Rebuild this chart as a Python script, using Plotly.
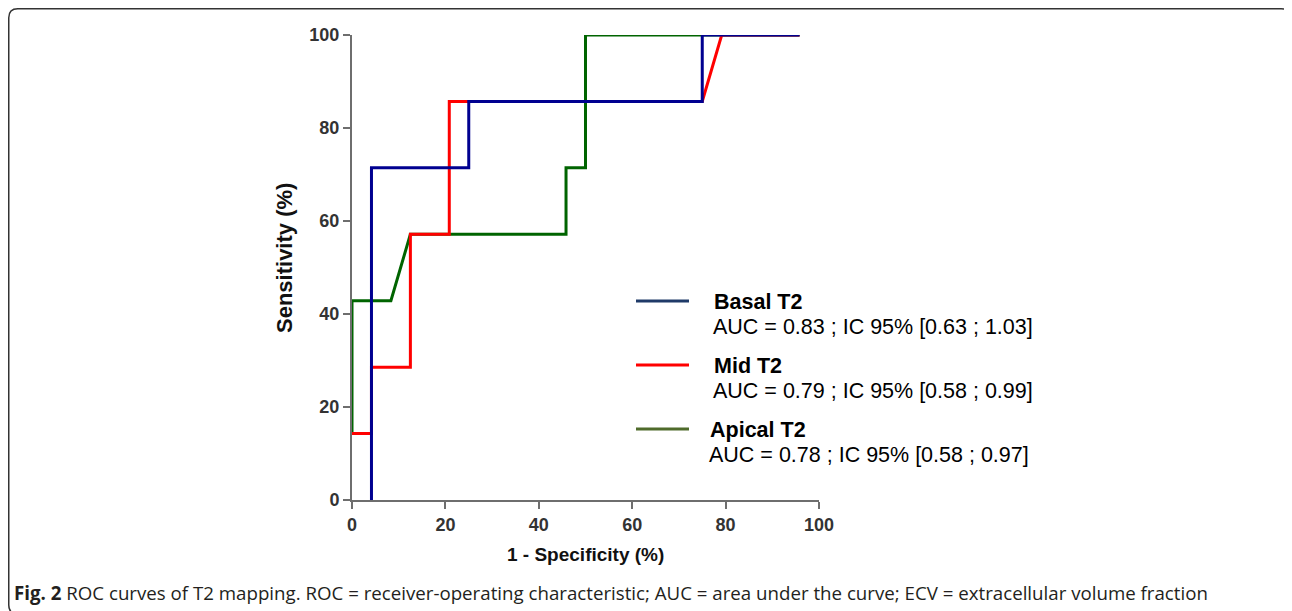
import plotly.graph_objects as go

# ---- data ----
fpr_basal = [4.17, 4.17, 25.0, 25.0, 75.0, 75.0, 95.83]
sens_basal = [0, 71.43, 71.43, 85.71, 85.71, 100, 100]

fpr_mid = [0, 4.17, 4.17, 12.5, 12.5, 20.83, 20.83, 75.0, 79.17, 95.83]
sens_mid = [14.29, 14.29, 28.57, 28.57, 57.14, 57.14, 85.71, 85.71, 100, 100]

fpr_apical = [0, 0, 8.33, 12.5, 45.83, 45.83, 50.0, 50.0, 95.83]
sens_apical = [14.29, 42.86, 42.86, 57.14, 57.14, 71.43, 71.43, 100, 100]

series_names = ["Basal T2", "Mid T2", "Apical T2"]
auc_texts = [
    "AUC = 0.83 ; IC 95% [0.63 ; 1.03]",
    "AUC = 0.79 ; IC 95% [0.58 ; 0.99]",
    "AUC = 0.78 ; IC 95% [0.58 ; 0.97]",
]
tick_vals = [0, 20, 40, 60, 80, 100]
tick_text = ["0", "20", "40", "60", "80", "100"]
x_title = "1 - Specificity (%)"
y_title = "Sensitivity (%)"
caption = ("<b>Fig. 2</b> ROC curves of T2 mapping. ROC = receiver-operating characteristic; "
           "AUC = area under the curve; ECV = extracellular volume fraction")

# ---- layout geometry (page pixels; the page body has an 8px margin) ----
OFF = 8
W, H = 1292 - OFF, 611 - OFF
L, R, T, B = 352, 819, 35, 500


def px(x):
    return (x - L) / (R - L)


def py(y):
    return (B - y) / (B - T)


fig = go.Figure()
fig.add_trace(go.Scatter(x=fpr_apical, y=sens_apical, mode="lines",
                         line=dict(color="#006400", width=3), showlegend=False))
fig.add_trace(go.Scatter(x=fpr_mid, y=sens_mid, mode="lines",
                         line=dict(color="#ff0000", width=3), showlegend=False))
fig.add_trace(go.Scatter(x=fpr_basal, y=sens_basal, mode="lines",
                         line=dict(color="#000090", width=3), showlegend=False))

axis_common = dict(
    range=[0, 100], tickvals=tick_vals, ticktext=["<b>" + t + "</b>" for t in tick_text],
    showgrid=False, zeroline=False,
    showline=True, linecolor="#6e6e6e", linewidth=2,
    ticks="outside", ticklen=7, tickwidth=2, tickcolor="#6e6e6e",
    tickfont=dict(family="Liberation Sans, Arial", size=18, color="#333333"),
)
fig.update_xaxes(**axis_common)
fig.update_yaxes(**axis_common)

annotations = []
shapes = []

# axis titles
annotations.append(dict(x=px(585), y=py(554), xref="paper", yref="paper",
                        text="<b>" + x_title + "</b>", showarrow=False,
                        font=dict(family="Liberation Sans, Arial", size=19, color="#111111"),
                        xanchor="center", yanchor="middle"))
annotations.append(dict(x=px(284), y=py(258), xref="paper", yref="paper",
                        text="<b>" + y_title + "</b>", showarrow=False, textangle=-90,
                        font=dict(family="Liberation Sans, Arial", size=22, color="#111111"),
                        xanchor="center", yanchor="middle"))

# legend (custom drawn)
legend_colors = ["#1f3a68", "#ff0000", "#4f6b2b"]
legend_line_y = [301, 365, 429]
name_x = [712, 712, 708]
for i in range(3):
    shapes.append(dict(type="line", xref="paper", yref="paper",
                       x0=px(636), x1=px(689), y0=py(legend_line_y[i]), y1=py(legend_line_y[i]),
                       line=dict(color=legend_colors[i], width=3)))
    annotations.append(dict(x=px(name_x[i]), y=py(legend_line_y[i] + 1), xref="paper", yref="paper",
                            text="<b>" + series_names[i] + "</b>", showarrow=False,
                            font=dict(family="Liberation Sans, Arial", size=21.5, color="#000000"),
                            xanchor="left", yanchor="middle"))
    annotations.append(dict(x=px(name_x[i] - 1), y=py(legend_line_y[i] + 26), xref="paper", yref="paper",
                            text=auc_texts[i], showarrow=False,
                            font=dict(family="Liberation Sans, Arial", size=21.5, color="#000000"),
                            xanchor="left", yanchor="middle"))

# caption
annotations.append(dict(x=px(12), y=py(592), xref="paper", yref="paper",
                        text=caption, showarrow=False,
                        font=dict(family="Open Sans", size=18.7, color="#231f20"),
                        xanchor="left", yanchor="middle"))

# rounded frame
x0f, y0f, x1f, y1f, r = 8.75, 8.75, 1290, 614, 9
path = (f"M {px(x0f)} {py(y1f - r)} L {px(x0f)} {py(y0f + r)} "
        f"Q {px(x0f)} {py(y0f)} {px(x0f + r)} {py(y0f)} "
        f"L {px(x1f - r)} {py(y0f)} Q {px(x1f)} {py(y0f)} {px(x1f)} {py(y0f + r)} "
        f"L {px(x1f)} {py(y1f - r)} Q {px(x1f)} {py(y1f)} {px(x1f - r)} {py(y1f)} "
        f"L {px(x0f + r)} {py(y1f)} Q {px(x0f)} {py(y1f)} {px(x0f)} {py(y1f - r)} Z")
shapes.append(dict(type="path", xref="paper", yref="paper", path=path,
                   line=dict(color="#333333", width=1.5), layer="below"))

fig.update_layout(
    width=W, height=H,
    margin=dict(l=L - OFF, r=(W + OFF) - R, t=T - OFF, b=(H + OFF) - B, pad=0),
    paper_bgcolor="white", plot_bgcolor="white",
    showlegend=False,
    annotations=annotations, shapes=shapes,
)

fig.write_html("out.html")
